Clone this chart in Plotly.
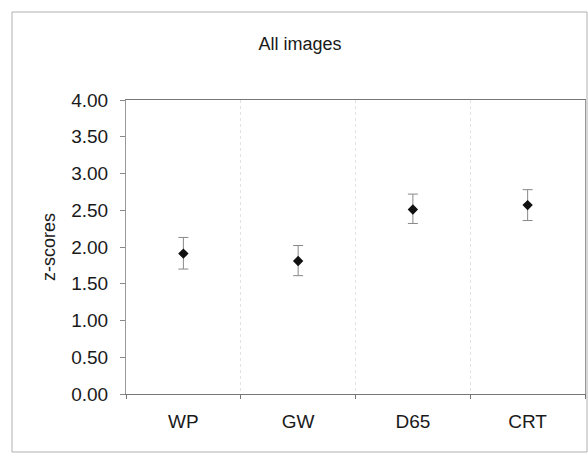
import plotly.graph_objects as go

categories = ["WP", "GW", "D65", "CRT"]
z_scores = [1.91, 1.81, 2.51, 2.57]
err_plus = [0.22, 0.21, 0.21, 0.21]
err_minus = [0.21, 0.20, 0.19, 0.21]
y_ticks = [0, 0.5, 1, 1.5, 2, 2.5, 3, 3.5, 4]

W, H = 588, 456
L, R, T, B = 126, 3, 100, 62
pw, ph = W - L - R, H - T - B

def px_x(x):
    return (x - L) / pw

def px_y(y):
    return (H - B - y) / ph

fig = go.Figure()
fig.add_trace(go.Scatter(
    x=categories, y=z_scores, mode="markers",
    marker=dict(symbol="diamond", size=8, color="#111111"),
    error_y=dict(type="data", symmetric=False, array=err_plus, arrayminus=err_minus,
                 color="#888888", thickness=1, width=5),
    showlegend=False,
))

fig.add_shape(type="rect", xref="paper", yref="paper",
              x0=px_x(12), x1=px_x(587), y0=px_y(452), y1=px_y(12),
              line=dict(color="#b0b0b0", width=1), layer="below")

fig.update_layout(
    width=W, height=H,
    margin=dict(l=L, r=R, t=T, b=B),
    paper_bgcolor="white", plot_bgcolor="white",
    font=dict(family="Liberation Sans, Arial, sans-serif", color="#1a1a1a"),
    title=dict(text="All images", xref="container", x=300 / W, xanchor="center",
               yref="container", y=1 - 44 / H, yanchor="middle", font=dict(size=18)),
    xaxis=dict(type="category", range=[-0.5, 3.5], tickson="boundaries",
               ticks="outside", ticklen=4, tickcolor="#777777",
               showline=True, linecolor="#777777", linewidth=1, mirror=True,
               showgrid=True, gridcolor="#e2e2e2", griddash="dot",
               tickfont=dict(size=19), ticklabelstandoff=10, zeroline=False),
    yaxis=dict(range=[0, 4], tickvals=y_ticks, tickformat=".2f",
               ticks="outside", ticklen=5, tickcolor="#888888",
               showline=True, linecolor="#999999", linewidth=1, mirror=True,
               showgrid=False, zeroline=False, tickfont=dict(size=19),
               ticklabelstandoff=8,
               title=dict(text="z-scores", font=dict(size=18), standoff=10)),
)

fig.write_html("out.html", config={"displayModeBar": False},
               post_script="document.body.style.margin='0';")
